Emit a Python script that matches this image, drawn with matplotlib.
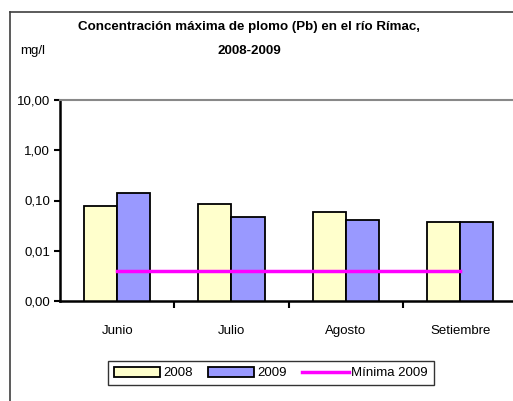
import numpy as np
import matplotlib
matplotlib.use("Agg")
import matplotlib.pyplot as plt
from matplotlib.ticker import FixedLocator, NullLocator

plt.rcParams['font.family'] = ['Liberation Sans Narrow', 'Liberation Sans', 'DejaVu Sans']

# Data (mg/l, log scale)
meses = ["Junio", "Julio", "Agosto", "Setiembre"]
valores_2008 = [0.078, 0.084, 0.058, 0.038]
valores_2009 = [0.142, 0.048, 0.040, 0.038]
minima_2009 = [0.0039, 0.0039, 0.0039, 0.0039]
y_ticks = [0.001, 0.01, 0.1, 1, 10]
y_labels = ["0,00", "0,01", "0,10", "1,00", "10,00"]

W, H = 513, 401
fig = plt.figure(figsize=(W / 100, H / 100), dpi=100)

# chart border (cropped on right and bottom in the reference)
fig.add_artist(plt.Line2D([10 / W, 10 / W], [0, 1 - 12 / H], color="#404040", lw=1.2))
fig.add_artist(plt.Line2D([10 / W, 1], [1 - 12 / H, 1 - 12 / H], color="#404040", lw=1.2))

left, right, top, bottom = 60, 517.3, 100, 301
ax = fig.add_axes([left / W, 1 - bottom / H, (right - left) / W, (bottom - top) / H])

x = np.arange(len(meses))
bw = 0.289
b1 = ax.bar(x - bw / 2, valores_2008, bw, color="#FFFFCC", edgecolor="black", lw=1.3, label="2008")
b2 = ax.bar(x + bw / 2, valores_2009, bw, color="#9999FF", edgecolor="black", lw=1.3, label="2009")
ln, = ax.plot(x, minima_2009, color="#FF00FF", lw=2.5, label="Mínima 2009")

ax.set_yscale("log")
ax.set_ylim(0.001, 10)
ax.set_xlim(-0.5, len(meses) - 0.5)
ax.yaxis.set_major_locator(FixedLocator(y_ticks))
ax.yaxis.set_minor_locator(NullLocator())
ax.set_yticklabels(y_labels, fontsize=9.5)
ax.tick_params(axis="y", direction="out", length=4, width=1.5, pad=3)

ax.set_xticks(x)
ax.set_xticklabels(meses, fontsize=9.5)
ax.tick_params(axis="x", length=0, pad=17)
ax.set_xticks(np.arange(0.5, len(meses) - 0.5, 1), minor=True)
ax.tick_params(axis="x", which="minor", direction="out", length=5, width=1.5)

ax.spines["left"].set_linewidth(1.8)
ax.spines["bottom"].set_linewidth(1.8)
ax.spines["top"].set_color("#888888")
ax.spines["top"].set_linewidth(1.5)
ax.spines["right"].set_visible(False)

fig.text(249 / W, 1 - 27 / H, "Concentración máxima de plomo (Pb) en el río Rímac,",
         ha="center", va="center", fontsize=9.6, fontweight="bold")
fig.text(249 / W, 1 - 51 / H, "2008-2009", ha="center", va="center", fontsize=9.6, fontweight="bold")
fig.text(33 / W, 1 - 51 / H, "mg/l", ha="center", va="center", fontsize=9.5)

leg = fig.legend(handles=[b1, b2, ln], loc="center", bbox_to_anchor=(271 / W, 1 - 373 / H),
                 ncol=3, fontsize=9.5, frameon=True, fancybox=False, edgecolor="black",
                 handlelength=3.5, handleheight=0.8, columnspacing=1.2, handletextpad=0.2,
                 borderpad=0.45)
leg.get_frame().set_linewidth(1.0)

fig.savefig("out.png", dpi=100)
